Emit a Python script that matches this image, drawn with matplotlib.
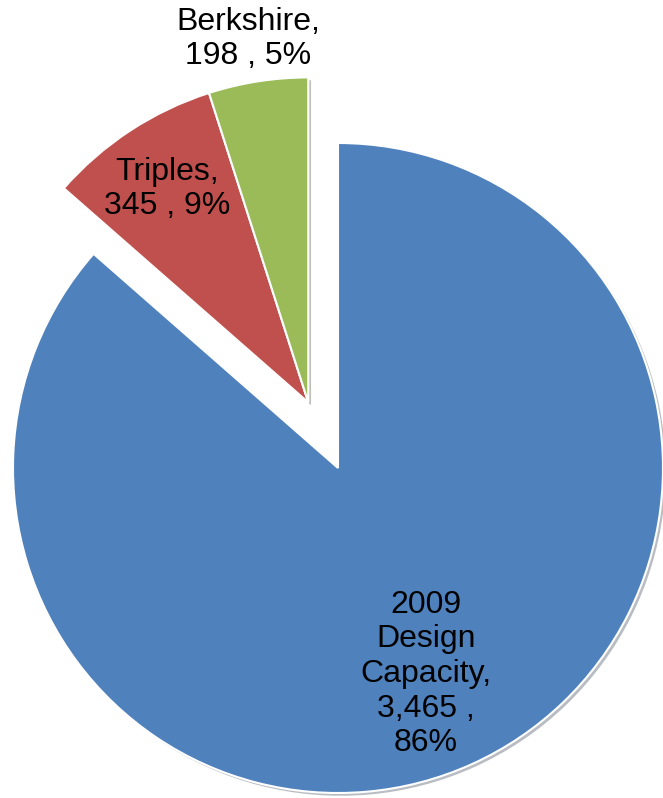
import matplotlib
matplotlib.use("Agg")
import matplotlib.pyplot as plt
import matplotlib.patheffects as pe
import numpy as np

categories = ["2009 Design Capacity", "Triples", "Berkshire"]
values = [3465, 345, 198]
colors = ["#4F81BD", "#C0504D", "#9BBB59"]
label_texts = ["2009\nDesign\nCapacity,\n3,465 ,\n86%", "Triples,\n345 , 9%", "Berkshire,\n198 , 5%"]

W, H = 663, 798
fig = plt.figure(figsize=(W / 100, H / 100), dpi=100)
ax = fig.add_axes([0, 0, 1, 1])

cx, cy, R = 338, 330, 325
wedges, _ = ax.pie(values, center=(cx, cy), radius=R, startangle=90,
                   counterclock=False, colors=colors,
                   wedgeprops=dict(edgecolor="white", linewidth=1.5))

# explode Triples and Berkshire together along the bisector of their combined arc
total = sum(values)
a_start = 90 - 360 * values[0] / total - 360
a_end = 90
mid = np.deg2rad((a_start + a_end) / 2 + 360)
off = 72
for w in wedges[1:]:
    w.set_center((cx + off * np.cos(mid), cy + off * np.sin(mid)))

for w in wedges:
    w.set_path_effects([pe.SimplePatchShadow(offset=(2, -2), alpha=0.3), pe.Normal()])

ax.set_xlim(0, W)
ax.set_ylim(0, H)
ax.set_aspect("auto")
ax.axis("off")

font = dict(family=["Liberation Sans", "DejaVu Sans"], fontsize=23, color="black",
            ha="center", va="center", linespacing=1.2)
label_pos = [(426, H - 674), (167, H - 189), (248, H - 39)]
for txt, (x, y) in zip(label_texts, label_pos):
    ax.text(x, y, txt, **font)

fig.savefig("out.png", dpi=100)
